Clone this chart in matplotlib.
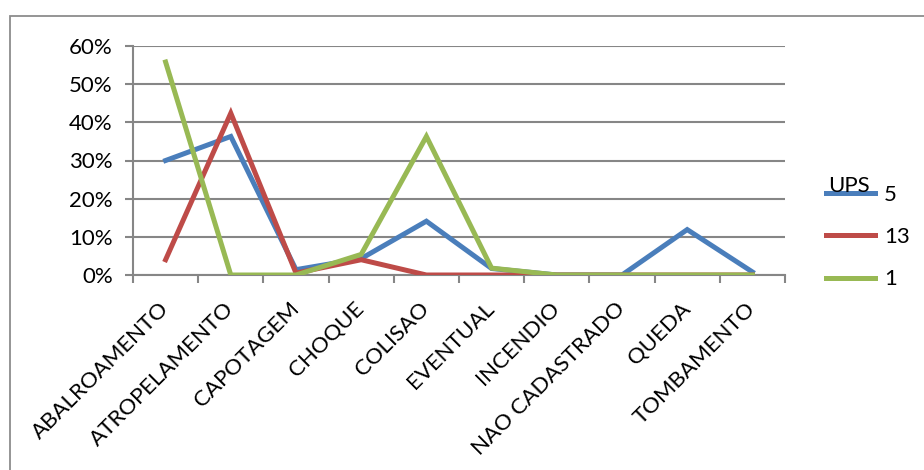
import numpy as np
from matplotlib import pyplot as plt
from matplotlib.ticker import FuncFormatter
from matplotlib.patches import Rectangle

plt.rcParams['font.family'] = ['Lato', 'DejaVu Sans']

categories = ["ABALROAMENTO", "ATROPELAMENTO", "CAPOTAGEM", "CHOQUE", "COLISAO",
              "EVENTUAL", "INCENDIO", "NAO CADASTRADO", "QUEDA", "TOMBAMENTO"]
ups_5 = [30.0, 36.3, 1.4, 4.3, 14.1, 1.7, 0.0, 0.0, 11.9, 0.8]
ups_13 = [4.0, 42.4, 0.5, 4.0, 0.0, 0.0, 0.0, 0.0, 0.0, 0.0]
ups_1 = [55.8, 0.0, 0.0, 5.4, 36.3, 1.8, 0.0, 0.0, 0.0, 0.0]
series_names = ["5", "13", "1"]
yticks = [0, 10, 20, 30, 40, 50, 60]

W, H = 924, 470
fs = 16
fig = plt.figure(figsize=(W / 100, H / 100), dpi=100)
ax = fig.add_axes([133 / W, 1 - 275 / H, (785 - 133) / W, (275 - 46) / H])

# chart frame (only top/left visible)
fig.patches.append(Rectangle((10 / W, -0.1), 1.2, 1 - 16 / H + 0.1, transform=fig.transFigure,
                             fill=False, edgecolor='#8c8c8c', linewidth=1.3))

grid_c = '#868686'
x = np.arange(len(categories))
colors = ['#4a7ebb', '#be4b48', '#98b954']
for vals, c, name in zip([ups_5, ups_13, ups_1], colors, series_names):
    ax.plot(x, vals, color=c, linewidth=3.6, label=name, solid_joinstyle='miter', zorder=3)

ax.set_xlim(-0.5, len(categories) - 0.5)
ax.set_ylim(0, 60)
ax.set_yticks(yticks)
ax.yaxis.set_major_formatter(FuncFormatter(lambda v, p: f"{v:.0f}%"))
ax.yaxis.grid(True, color=grid_c, linewidth=1.5)
ax.set_axisbelow(True)

ax.set_xticks(x)
ax.set_xticklabels(categories, rotation=45, ha='right', va='center', rotation_mode='anchor')
ax.set_xticks(np.arange(-0.5, len(categories)), minor=True)
ax.tick_params(axis='x', which='major', length=0, pad=22, labelsize=fs)
ax.tick_params(axis='x', which='minor', length=5.5, width=1.5, color=grid_c)
ax.tick_params(axis='y', length=5.5, width=1.5, color=grid_c, labelsize=fs, pad=9)

for s in ['top', 'right']:
    ax.spines[s].set_visible(False)
for s in ['left', 'bottom']:
    ax.spines[s].set_color(grid_c)
    ax.spines[s].set_linewidth(1.5)

leg = ax.legend(loc='upper left', bbox_to_anchor=(826 / W, 1 - 185 / H),
                bbox_transform=fig.transFigure, frameon=False, fontsize=fs,
                handlelength=2.2, handletextpad=0.4, labelspacing=1.0, borderpad=0,
                borderaxespad=0)
fig.text(828 / W, 1 - 192 / H, "UPS", fontsize=fs, va='baseline', ha='left')

fig.savefig("out.png", dpi=100)
